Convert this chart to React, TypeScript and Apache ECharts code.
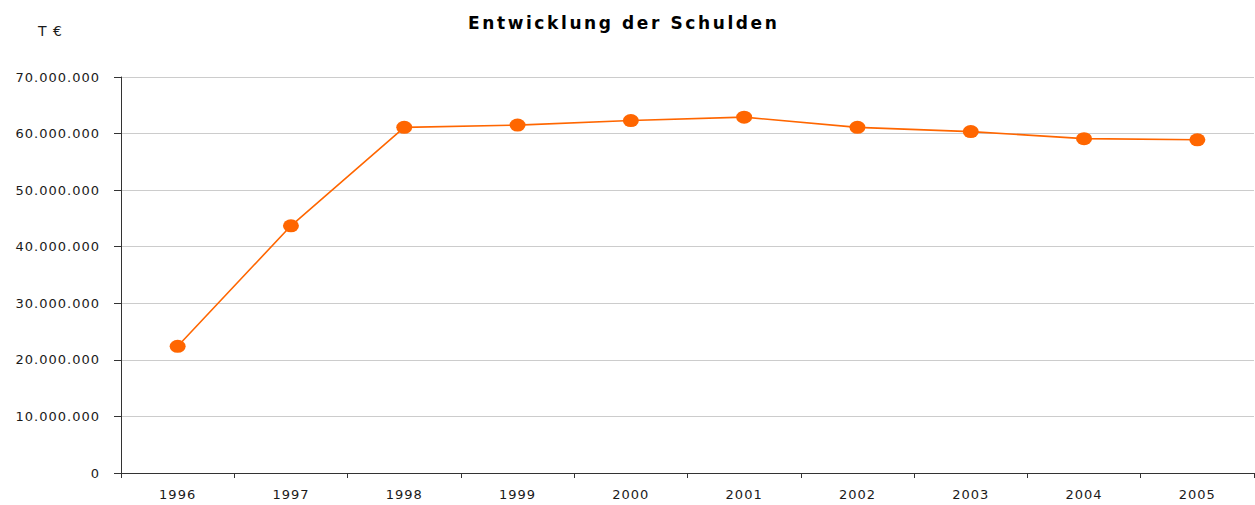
import React, { useEffect, useRef } from "react";
import * as echarts from "echarts";

const years = ["1996", "1997", "1998", "1999", "2000", "2001", "2002", "2003", "2004", "2005"];
const debt = [22400000, 43700000, 61100000, 61500000, 62300000, 62900000, 61100000, 60350000, 59100000, 58900000];
const yMin = 0;
const yMax = 70000000;
const yInterval = 10000000;
const titleText = "Entwicklung der Schulden";
const unitText = "T €";

const fmt = (v: number) => String(v).replace(/\B(?=(\d{3})+(?!\d))/g, ".");

const FONT = "'DejaVu Sans', Verdana, sans-serif";
const ELLIPSE = "path://M0 1A1 1 0 1 0 2 1A1 1 0 1 0 0 1Z";

export default function App() {
  const ref = useRef<HTMLDivElement>(null);
  useEffect(() => {
    document.body.style.margin = "0";
    const chart = echarts.init(ref.current!, null, { renderer: "svg" });
    const applySpacing = () => {
      const texts = ref.current?.querySelectorAll("text") || [];
      texts.forEach((t) => {
        const s = t.textContent || "";
        t.setAttribute("letter-spacing", s === titleText ? "2.6" : "1");
      });
    };
    chart.on("finished", applySpacing);
    chart.setOption({
      animation: false,
      backgroundColor: "#ffffff",
      textStyle: { fontFamily: FONT },
      title: {
        text: titleText,
        left: 468,
        top: 14,
        padding: 0,
        textStyle: { fontFamily: FONT, fontSize: 17, fontWeight: "bold", color: "#000" },
      },
      graphic: [
        {
          type: "text",
          left: 38,
          top: 24,
          style: { text: unitText, font: `14px ${FONT}`, fill: "#1a1a1a" },
        },
      ],
      grid: { left: 121, right: 1, top: 77, bottom: 32, containLabel: false, outerBoundsMode: "none" },
      xAxis: {
        type: "category",
        data: years,
        boundaryGap: true,
        axisLine: { show: true, lineStyle: { color: "#333", width: 1 } },
        axisTick: { show: true, length: 5, inside: false, alignWithLabel: false, lineStyle: { color: "#333" } },
        axisLabel: { color: "#1a1a1a", fontSize: 13, fontFamily: FONT, margin: 15, interval: 0 },
        splitLine: { show: false },
      },
      yAxis: {
        type: "value",
        min: yMin,
        max: yMax,
        interval: yInterval,
        axisLine: { show: true, lineStyle: { color: "#333", width: 1 } },
        axisTick: { show: true, length: 7, inside: false, lineStyle: { color: "#333" } },
        axisLabel: { color: "#1a1a1a", fontSize: 13, fontFamily: FONT, margin: 21, formatter: (v: number) => fmt(v) },
        splitLine: { show: true, lineStyle: { color: "#cccccc", width: 1 } },
      },
      series: [
        {
          type: "line",
          data: debt,
          symbol: ELLIPSE,
          symbolSize: [16, 13],
          showAllSymbol: true,
          lineStyle: { color: "#ff6600", width: 1.6 },
          itemStyle: { color: "#ff6600" },
        },
      ],
    });
    applySpacing();
    return () => {
      chart.dispose();
    };
  }, []);
  return <div ref={ref} style={{ width: 1255, height: 505 }} />;
}
